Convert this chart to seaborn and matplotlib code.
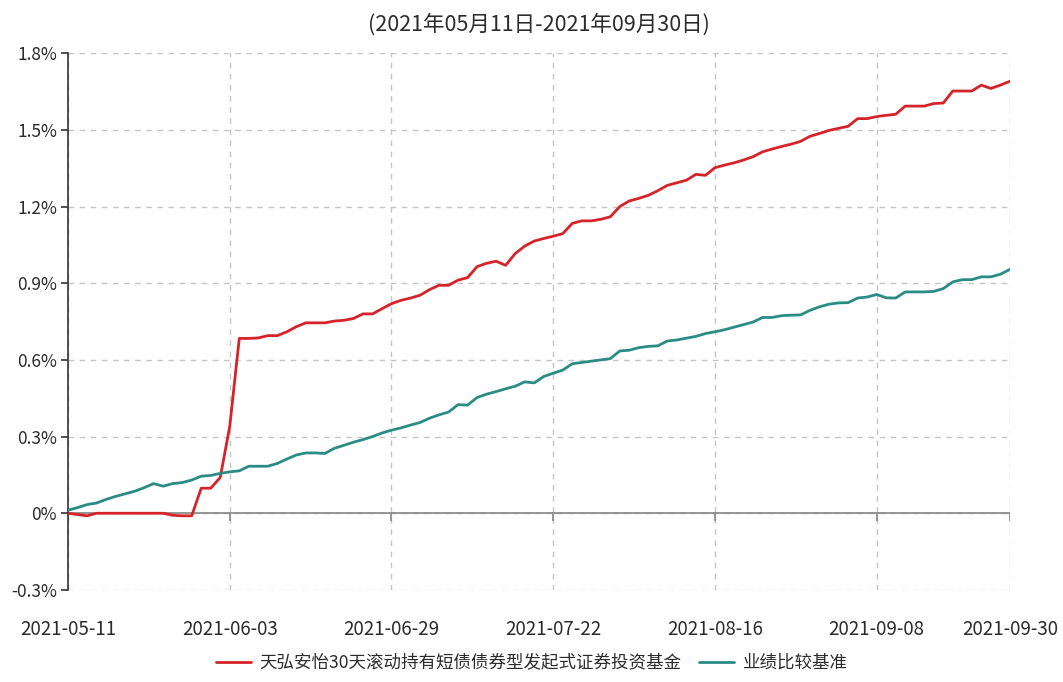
import pandas as pd
import matplotlib
matplotlib.use("Agg")
import matplotlib.pyplot as plt
import seaborn as sns
from matplotlib.lines import Line2D

# series names and title
fund_name = "天弘安怡30天滚动持有短债债券型发起式证券投资基金"
bench_name = "业绩比较基准"
title_text = "(2021年05月11日-2021年09月30日)"

# cumulative return (%) per trading day
fund_ret = [
    0.000, -0.005, -0.010, 0.000, 0.000, 0.000, 0.000, 0.000, 0.000, 0.000,
    0.000, -0.008, -0.010, -0.010, 0.098, 0.098, 0.140, 0.340, 0.684, 0.684,
    0.686, 0.695, 0.695, 0.710, 0.730, 0.745, 0.745, 0.745, 0.752, 0.755,
    0.762, 0.780, 0.780, 0.800, 0.820, 0.833, 0.842, 0.853, 0.875, 0.892,
    0.892, 0.912, 0.922, 0.965, 0.978, 0.986, 0.970, 1.016, 1.045, 1.065,
    1.075, 1.084, 1.094, 1.134, 1.144, 1.144, 1.150, 1.160, 1.200, 1.222,
    1.232, 1.244, 1.262, 1.283, 1.293, 1.303, 1.326, 1.322, 1.352, 1.362,
    1.371, 1.382, 1.395, 1.414, 1.425, 1.435, 1.444, 1.455, 1.475, 1.486,
    1.498, 1.506, 1.514, 1.544, 1.544, 1.552, 1.557, 1.561, 1.593, 1.593,
    1.593, 1.603, 1.605, 1.652, 1.652, 1.652, 1.675, 1.662, 1.675, 1.690,
]
bench_ret = [
    0.012, 0.022, 0.034, 0.040, 0.054, 0.066, 0.076, 0.086, 0.100, 0.116,
    0.106, 0.116, 0.120, 0.130, 0.145, 0.148, 0.156, 0.162, 0.166, 0.184,
    0.184, 0.184, 0.195, 0.212, 0.228, 0.236, 0.236, 0.234, 0.254, 0.266,
    0.278, 0.288, 0.300, 0.314, 0.325, 0.334, 0.345, 0.355, 0.372, 0.385,
    0.396, 0.425, 0.423, 0.453, 0.466, 0.476, 0.487, 0.497, 0.514, 0.510,
    0.535, 0.548, 0.560, 0.585, 0.590, 0.595, 0.600, 0.605, 0.635, 0.638,
    0.648, 0.653, 0.655, 0.674, 0.678, 0.685, 0.692, 0.703, 0.710, 0.718,
    0.728, 0.738, 0.748, 0.766, 0.766, 0.773, 0.775, 0.776, 0.794, 0.808,
    0.818, 0.823, 0.824, 0.842, 0.846, 0.856, 0.843, 0.842, 0.866, 0.866,
    0.866, 0.868, 0.879, 0.905, 0.914, 0.914, 0.925, 0.925, 0.935, 0.954,
]

# x axis: trading day index with date labels
x_tick_pos = [0, 17, 34, 51, 68, 85, 99]
x_tick_labels = ["2021-05-11", "2021-06-03", "2021-06-29", "2021-07-22",
                 "2021-08-16", "2021-09-08", "2021-09-30"]
y_ticks = [-0.3, 0.0, 0.3, 0.6, 0.9, 1.2, 1.5, 1.8]
y_tick_labels = ["-0.3%", "0%", "0.3%", "0.6%", "0.9%", "1.2%", "1.5%", "1.8%"]

RED = "#D6232A"
TEAL = "#2A8C85"
TEXT = "#2b2b2b"

n = len(fund_ret)
df = pd.DataFrame({
    "day": list(range(n)) * 2,
    "ret": fund_ret + bench_ret,
    "series": [fund_name] * n + [bench_name] * n,
})

sns.set_theme(style="white")
plt.rcParams['font.family'] = ['Noto Sans CJK SC', 'DejaVu Sans']
plt.rcParams['axes.unicode_minus'] = False

fig = plt.figure(figsize=(10.63, 6.82), dpi=100)
ax = fig.add_axes([0.064, 0.135, 0.886, 0.787])

sns.lineplot(data=df, x="day", y="ret", hue="series",
             palette={fund_name: RED, bench_name: TEAL},
             linewidth=2.0, ax=ax, legend=False, zorder=3)

ax.set_xlim(0, n - 1)
ax.set_ylim(-0.3, 1.8)
ax.set_xticks(x_tick_pos, x_tick_labels)
ax.set_yticks(y_ticks, y_tick_labels)
ax.set_xlabel("")
ax.set_ylabel("")

# dashed grid, solid zero line
ax.grid(True, linestyle=(0, (4, 4)), color="#c4c4c4", linewidth=1.0)
ax.axhline(0, color="#8c8c8c", linewidth=1.3, zorder=2)
ax.vlines(x_tick_pos, -0.03, 0, color="#8c8c8c", linewidth=1.3, zorder=2)

for s in ["top", "right", "bottom"]:
    ax.spines[s].set_visible(False)
ax.spines["left"].set_color("#333333")
ax.spines["left"].set_linewidth(1.2)

ax.tick_params(axis="x", length=0, pad=21, labelsize=13.5, labelcolor=TEXT)
ax.tick_params(axis="y", left=True, length=5, width=1.2, color="#333333",
               direction="out", pad=3, labelsize=12.5, labelcolor=TEXT)

ax.set_title(title_text, fontsize=15.5, color=TEXT, pad=16)

handles = [Line2D([], [], color=RED, linewidth=2.0),
           Line2D([], [], color=TEAL, linewidth=2.0)]
fig.legend(handles, [fund_name, bench_name], loc="lower center",
           bbox_to_anchor=(0.5, -0.008), ncol=2, frameon=False, fontsize=12.6,
           handlelength=2.0, handletextpad=0.5, columnspacing=1.0,
           labelcolor=TEXT)

fig.savefig("out.png", dpi=100)
